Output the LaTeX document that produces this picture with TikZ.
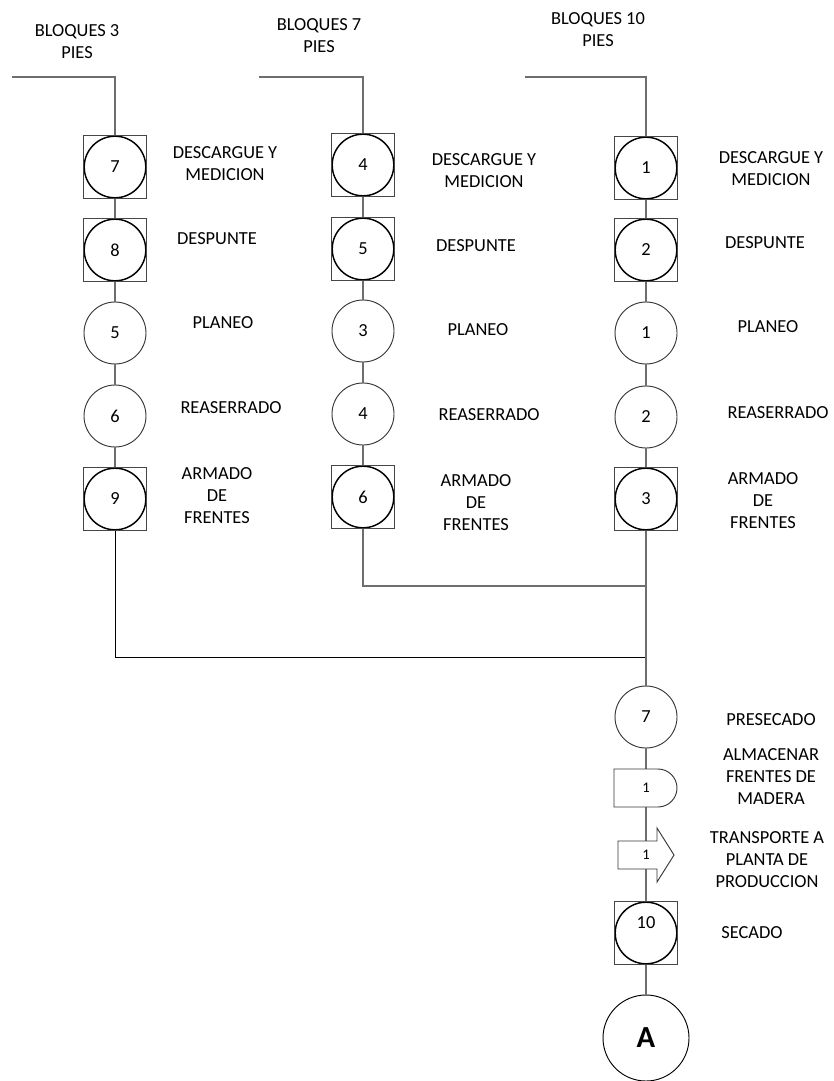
\documentclass[tikz,border=0pt]{standalone}
\usepackage{fontspec}
\setmainfont{Carlito}
\definecolor{linegray}{RGB}{110,110,110}
\definecolor{sqgray}{RGB}{70,70,70}
\definecolor{circgray}{RGB}{55,55,55}
\tikzset{
  op/.style={circle, draw=circgray, line width=0.7pt, minimum size=46.5pt, inner sep=0pt},
  comb/.style={rectangle, draw=sqgray, line width=0.7pt, minimum size=47.25pt, inner sep=0pt,
    append after command={\pgfextra{\draw[black, line width=1.1pt] (\tikzlastnode.center) circle (23.1pt);}}},
  lbl/.style={align=center},
  small/.style={font=\fontsize{11}{13}\selectfont},
  flow/.style={linegray, line width=0.8pt}
}
\begin{document}
\begin{tikzpicture}[x=0.75pt, y=-0.75pt,
    every node/.style={font=\fontsize{13.8}{16.5}\selectfont}]
  \useasboundingbox (0,0) rectangle (833,1081);
  \draw
    (77,42) node[lbl] (ha){BLOQUES 3\\PIES}
    (319,36) node[lbl] (hb){BLOQUES 7\\PIES}
    (598,30) node[lbl] (hc){BLOQUES 10\\PIES};
  \coordinate (sa) at (12,77);
  \coordinate (sb) at (259,77);
  \coordinate (sc) at (525,77);
  \draw
    (115,167) node[comb] (a1){7}
    (115,250) node[comb] (a2){8}
    (115,333) node[op] (a3){5}
    (115,416) node[op] (a4){6}
    (115,499) node[comb] (a5){9};
  \draw
    (363,165) node[comb] (b1){4}
    (363,249) node[comb] (b2){5}
    (363,331) node[op] (b3){3}
    (363,414) node[op] (b4){4}
    (363,497) node[comb] (b5){6};
  \draw
    (646,168) node[comb] (c1){1}
    (646,250) node[comb] (c2){2}
    (646,333) node[op] (c3){1}
    (646,417) node[op] (c4){2}
    (646,499) node[comb] (c5){3};
  \draw
    (225,164) node[lbl] (la1){DESCARGUE Y\\MEDICION}
    (217,239) node[lbl] (la2){DESPUNTE}
    (223,323) node[lbl] (la3){PLANEO}
    (231,408) node[lbl] (la4){REASERRADO}
    (217,496) node[lbl] (la5){ARMADO\\DE\\FRENTES}
    (484,171) node[lbl] (lb1){DESCARGUE Y\\MEDICION}
    (476,246) node[lbl] (lb2){DESPUNTE}
    (478,330) node[lbl] (lb3){PLANEO}
    (489,415) node[lbl] (lb4){REASERRADO}
    (476,503) node[lbl] (lb5){ARMADO\\DE\\FRENTES}
    (771,169) node[lbl] (lc1){DESCARGUE Y\\MEDICION}
    (765,243) node[lbl] (lc2){DESPUNTE}
    (768,327) node[lbl] (lc3){PLANEO}
    (778,413) node[lbl] (lc4){REASERRADO}
    (763,501) node[lbl] (lc5){ARMADO\\DE\\FRENTES};
  \coordinate (j1) at (646,586);
  \coordinate (j2) at (646,657);
  \draw
    (646,717) node[op] (pre){7}
    (646,933) node[comb, text depth=15pt] (sec){10}
    (646,1038) node[op, draw=black, minimum size=64.5pt, font=\fontsize{23}{27}\selectfont\bfseries] (A){A};
  \draw
    (771,720) node[lbl] (lpre){PRESECADO}
    (771,777) node[lbl] (lst){ALMACENAR\\FRENTES DE\\MADERA}
    (767,860) node[lbl] (ltr){TRANSPORTE A\\PLANTA DE\\PRODUCCION}
    (752,933) node[lbl] (lsec){SECADO};
  \begin{scope}[flow]
    \draw (sa) -| (a1);
    \draw (sb) -| (b1);
    \draw (sc) -| (c1);
    \draw (a1) to (a2);
    \draw (a2) to (a3);
    \draw (a3) to (a4);
    \draw (a4) to (a5);
    \draw (b1) to (b2);
    \draw (b2) to (b3);
    \draw (b3) to (b4);
    \draw (b4) to (b5);
    \draw (c1) to (c2);
    \draw (c2) to (c3);
    \draw (c3) to (c4);
    \draw (c4) to (c5);
    \draw (b5) |- (j1);
    \draw[black, line width=0.7pt] (a5) |- (j2);
    \draw (c5) to (pre);
    \draw (pre) to (sec);
    \draw (sec) to (A);
    \draw[circgray, line width=0.7pt, fill=white] (614,769) -- (658,769) arc[start angle=90, end angle=-90, radius=14.25pt] -- (614,807) -- cycle;
    \draw[circgray, line width=0.7pt, fill=white] (618,841) -- (657,841) -- (657,828) -- (674,855) -- (657,882) -- (657,869) -- (618,869) -- cycle;
  \end{scope}
  \draw
    (646,788) node[small] (st){1}
    (646,855) node[small] (tr){1};
\end{tikzpicture}
\end{document}
